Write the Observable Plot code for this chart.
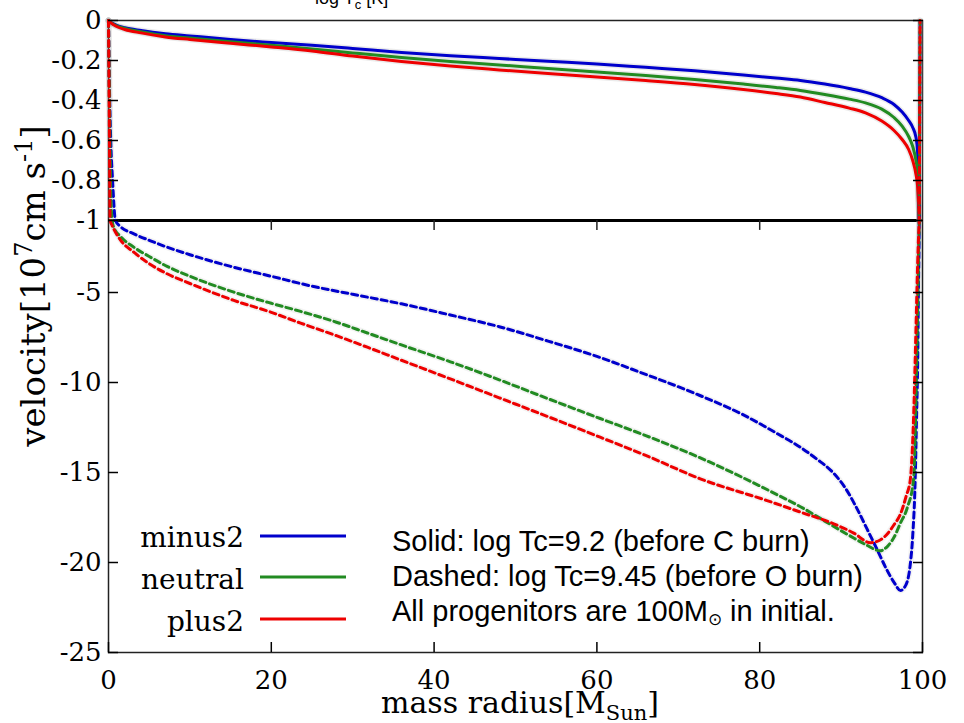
<!DOCTYPE html>
<html><head><meta charset="utf-8">
<script src="https://cdn.jsdelivr.net/npm/d3@7"></script>
<script src="https://cdn.jsdelivr.net/npm/@observablehq/plot@0.6"></script>
<style>html,body{margin:0;padding:0;background:#fff;overflow:hidden}</style>
</head><body><div id="chart"></div>
<script>
const seriesNames = ["minus2", "neutral", "plus2"];
const seriesColors = ["#0000cc", "#228b22", "#ee0000"];
const xTicks = [0, 20, 40, 60, 80, 100];
const xInnerTicks = [20, 40, 60, 80];
const yTicks = [0, -0.2, -0.4, -0.6, -0.8, -1, -5, -10, -15, -20, -25];

// Solid: log Tc = 9.2
const solidMass = [0,0.3,1,2,4,7,10,15,20,25,30,36,42,48,54,60,66,72,78,82,85,88,91,93,95,96.5,97.5,98.3,98.8,99.2,99.4,99.5,99.6];
const solidMinus2 = [0,-0.010,-0.024,-0.036,-0.050,-0.066,-0.077,-0.095,-0.110,-0.124,-0.140,-0.160,-0.176,-0.190,-0.204,-0.217,-0.234,-0.251,-0.272,-0.288,-0.300,-0.318,-0.340,-0.358,-0.386,-0.420,-0.458,-0.500,-0.535,-0.585,-0.66,-0.82,-1.0];
const solidNeutral = [0,-0.011,-0.027,-0.040,-0.056,-0.076,-0.088,-0.106,-0.124,-0.142,-0.162,-0.185,-0.205,-0.222,-0.240,-0.257,-0.275,-0.295,-0.318,-0.335,-0.350,-0.370,-0.393,-0.412,-0.443,-0.485,-0.528,-0.580,-0.630,-0.700,-0.76,-0.87,-1.0];
const solidPlus2 = [0,-0.012,-0.030,-0.045,-0.062,-0.082,-0.095,-0.114,-0.132,-0.152,-0.178,-0.205,-0.228,-0.247,-0.265,-0.282,-0.300,-0.320,-0.345,-0.365,-0.383,-0.410,-0.438,-0.462,-0.503,-0.550,-0.595,-0.645,-0.700,-0.770,-0.83,-0.91,-1.0];

// Dashed: log Tc = 9.45
const dashMassMinus2 = [0,0.1,0.25,0.5,0.85,1.5,3,5,7,10,15,20,25,30,36,42,48,54,60,66,72,78,82,85,87,89,90.5,92,93.2,94.5,95.5,96.5,97.3,97.9,98.5,98.8,99.1,99.26,99.42,99.5,99.6,99.65,99.7];
const dashMinus2 = [0,-0.3,-0.57,-0.8,-1.0,-1.35,-1.72,-2.1,-2.45,-2.9,-3.55,-4.1,-4.65,-5.1,-5.63,-6.25,-6.9,-7.7,-8.55,-9.55,-10.6,-11.8,-12.8,-13.6,-14.25,-15.0,-15.85,-17.05,-18.15,-19.35,-20.3,-21.1,-21.55,-21.3,-20.1,-18.5,-15.4,-12.1,-8.4,-4.7,-1.0,-0.5,0];
const dashMassNeutral = [0,0.15,0.3,0.5,0.65,1.5,3.1,5,7.2,10,15.4,20,23.6,28,31.8,35.9,42,48,54,60.4,66,72,78,82,85,88,91.2,93,94.8,95.8,96.5,97.3,98.1,98.9,99.2,99.4,99.55,99.6,99.65,99.7];
const dashNeutral = [0,-0.5,-0.9,-1.15,-1.37,-1.9,-2.48,-3.0,-3.55,-4.1,-4.98,-5.6,-6.05,-6.65,-7.25,-7.9,-8.85,-9.85,-10.9,-12.0,-12.95,-14.05,-15.3,-16.2,-16.9,-17.7,-18.55,-19.0,-19.35,-19.05,-18.6,-17.8,-17.0,-15.4,-11.0,-6.0,-2.0,-1.0,-0.5,0];
const dashMassPlus2 = [0,0.1,0.2,0.45,1.5,3.1,5,7.2,10,15.4,20,23.6,28,31.8,35.9,42,48,54,60.4,66,72.7,80.9,85,89.1,91.5,93.6,94.8,95.7,96.5,97.3,98.0,98.5,98.9,99.2,99.4,99.55,99.6,99.65,99.7];
const dashPlus2 = [0,-0.5,-1.0,-1.28,-2.1,-2.76,-3.4,-3.96,-4.5,-5.44,-6.1,-6.7,-7.4,-8.04,-8.75,-9.8,-10.85,-11.9,-13.04,-14.05,-15.35,-16.56,-17.2,-17.85,-18.35,-18.9,-18.75,-18.4,-17.9,-17.3,-16.3,-15.4,-12.0,-7.0,-3.5,-1.5,-1.0,-0.5,0];

const solidValues = [solidMinus2, solidNeutral, solidPlus2];
const dashMasses = [dashMassMinus2, dashMassNeutral, dashMassPlus2];
const dashValues = [dashMinus2, dashNeutral, dashPlus2];

const solidRows = [];
seriesNames.forEach((s, i) => solidMass.forEach((m, j) => solidRows.push({series: s, mass: m, v: solidValues[i][j]})));
const dashRows = [];
seriesNames.forEach((s, i) => dashMasses[i].forEach((m, j) => dashRows.push({series: s, mass: m, v: dashValues[i][j]})));

const chart = Plot.plot({
  width: 964, height: 723,
  marginTop: 20, marginBottom: 71, marginLeft: 108, marginRight: 42,
  x: {type: "linear", domain: [0, 100], axis: null},
  y: {type: "linear", domain: [0, -1, -25], range: [20, 220, 652], axis: null},
  color: {domain: seriesNames, range: seriesColors},
  style: {fontFamily: "'DejaVu Serif', serif", fontSize: "26px", color: "#000", background: "#fff"},
  marks: [
    Plot.frame({stroke: "#222", strokeWidth: 1.5}),
    Plot.ruleY([-1], {stroke: "#000", strokeWidth: 3}),
    Plot.ruleX(xInnerTicks, {y1: -1, y2: -1.55, stroke: "#222", strokeWidth: 1.5}),
    Plot.line(solidRows, {x: "mass", y: "v", z: "series", stroke: "#999", strokeWidth: 6, strokeOpacity: 0.2, curve: "monotone-x"}),
    Plot.line(dashRows, {x: "mass", y: "v", z: "series", stroke: "#999", strokeWidth: 6, strokeOpacity: 0.12, curve: "monotone-x"}),
    Plot.line(solidRows, {x: "mass", y: "v", stroke: "series", strokeWidth: 3, curve: "monotone-x"}),
    Plot.line(dashRows, {x: "mass", y: "v", stroke: "series", strokeWidth: 3, strokeDasharray: "6,4", curve: "monotone-x"}),
    Plot.axisY(yTicks, {anchor: "left", tickSize: -10, tickPadding: 17, tickFormat: d => String(d), label: null, strokeWidth: 1.5}),
    Plot.axisY(yTicks, {anchor: "right", tickSize: -10, tickFormat: () => "", label: null, strokeWidth: 1.5}),
    Plot.axisX(xTicks, {anchor: "bottom", tickSize: -10, tickPadding: 28, tickFormat: d => String(d), label: null, strokeWidth: 1.5})
  ]
});

const svg = d3.select(chart);
const serif = "'DejaVu Serif', serif";
const sans = "'Liberation Sans', Arial, sans-serif";

// clipped top title
const topTitle = svg.append("text").attr("x", 315).attr("y", 4).attr("text-anchor", "start")
  .attr("font-family", sans).attr("font-size", 18).attr("fill", "#000");
topTitle.append("tspan").text("log T");
topTitle.append("tspan").attr("dy", 5).attr("font-size", 13).text("c");
topTitle.append("tspan").attr("dy", -5).text(" [K]");

// y label
const yl = svg.append("text").attr("transform", "translate(45,286) rotate(-90)").attr("text-anchor", "middle")
  .attr("font-family", serif).attr("font-size", 34).attr("fill", "#000");
yl.append("tspan").text("velocity[10");
yl.append("tspan").attr("dy", -13).attr("font-size", 24).text("7");
yl.append("tspan").attr("dy", 13).text("cm s");
yl.append("tspan").attr("dy", -13).attr("font-size", 24).text("-1");
yl.append("tspan").attr("dy", 13).text("]");

// x label
const xl = svg.append("text").attr("x", 520).attr("y", 713).attr("text-anchor", "middle")
  .attr("font-family", serif).attr("font-size", 30).attr("fill", "#000");
xl.append("tspan").text("mass radius[M");
xl.append("tspan").attr("dy", 7).attr("font-size", 21).text("Sun");
xl.append("tspan").attr("dy", -7).text("]");

// legend
const legY = [547, 589, 631];
const legLineY = [536, 577, 619];
seriesNames.forEach((s, i) => {
  svg.append("text").attr("x", 244).attr("y", legY[i]).attr("text-anchor", "end")
    .attr("font-family", serif).attr("font-size", 28).attr("fill", "#000").text(s);
  svg.append("line").attr("x1", 260).attr("x2", 346).attr("y1", legLineY[i]).attr("y2", legLineY[i])
    .attr("stroke", seriesColors[i]).attr("stroke-width", 3);
});

// annotation
const notes = ["Solid: log Tc=9.2 (before C burn)", "Dashed: log Tc=9.45 (before O burn)"];
const noteY = [551, 586, 621];
notes.forEach((t, i) => {
  svg.append("text").attr("x", 392).attr("y", noteY[i]).attr("text-anchor", "start")
    .attr("font-family", sans).attr("font-size", 29).attr("fill", "#000").text(t);
});
const n3 = svg.append("text").attr("x", 392).attr("y", noteY[2]).attr("text-anchor", "start")
  .attr("font-family", sans).attr("font-size", 29).attr("fill", "#000");
n3.append("tspan").text("All progenitors are 100M");
n3.append("tspan").attr("dy", 4).attr("font-size", 17).text("⊙");
n3.append("tspan").attr("dy", -4).text(" in initial.");

document.getElementById("chart").appendChild(chart);
</script></body></html>
